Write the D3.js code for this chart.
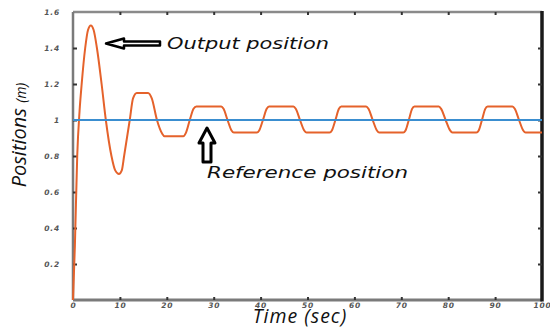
<!DOCTYPE html>
<html>
<head>
<meta charset="utf-8">
<script src="https://cdn.jsdelivr.net/npm/d3@7"></script>
<style>
  body { margin: 0; background: #fff; }
  svg { display: block; }
</style>
</head>
<body>
<div id="display"></div>
<script>
// values
const outputTime = [0, 0.4, 0.9, 1.4, 1.85, 2.6, 3.2, 3.8, 4.4, 5.1, 6.1, 7.0, 8.2, 9.0, 9.8, 10.4, 10.9, 12.1, 12.8, 13.6,
    16.0, 16.8, 17.9, 19.0, 19.5, 23.5, 24.1, 24.9, 25.7, 26.3,
    31.6, 32.1, 32.95, 33.8, 34.3, 39.2, 39.7, 40.5, 41.3, 41.8,
    47.0, 47.5, 48.4, 49.3, 49.8, 54.7, 55.2, 55.95, 56.7, 57.2,
    62.5, 63.0, 63.9, 64.8, 65.3, 70.4, 70.9, 71.6, 72.3, 72.8,
    78.0, 78.5, 79.45, 80.4, 80.9, 86.0, 86.5, 87.2, 87.9, 88.4,
    93.7, 94.2, 95.1, 96.0, 96.5, 100];
const outputPos = [0, 0.3, 0.8, 1.05, 1.2, 1.4, 1.5, 1.525, 1.5, 1.4, 1.2, 1.0, 0.8, 0.72, 0.70, 0.72, 0.8, 1.0, 1.12, 1.15,
    1.15, 1.12, 1.0, 0.925, 0.91, 0.91, 0.93, 1.0, 1.062, 1.075,
    1.075, 1.062, 1.0, 0.942, 0.93, 0.93, 0.942, 1.0, 1.062, 1.075,
    1.075, 1.062, 1.0, 0.942, 0.93, 0.93, 0.942, 1.0, 1.062, 1.075,
    1.075, 1.062, 1.0, 0.942, 0.93, 0.93, 0.942, 1.0, 1.062, 1.075,
    1.075, 1.062, 1.0, 0.942, 0.93, 0.93, 0.942, 1.0, 1.062, 1.075,
    1.075, 1.062, 1.0, 0.942, 0.93, 0.93];
const refTime = [0, 100];
const refPos = [1, 1];
const xTicks = [0, 10, 20, 30, 40, 50, 60, 70, 80, 90, 100];
const yTicks = [0.2, 0.4, 0.6, 0.8, 1, 1.2, 1.4, 1.6];

const w = 550;
const h = 328;
const margin = {top: 12, right: 8, bottom: 28, left: 73};

const viz = d3.select('#display').append('svg')
    .attr('width', w)
    .attr('height', h);

const xScale = d3.scaleLinear().domain([0, 100]).range([margin.left, w - margin.right]);
const yScale = d3.scaleLinear().domain([0, 1.6]).range([h - margin.bottom, margin.top]);

const x0 = xScale.range()[0], x1 = xScale.range()[1];
const y0 = yScale.range()[0], y1 = yScale.range()[1];

// frame: grey left/top/bottom, black right
const frame = viz.append('g').attr('class', 'frame');
frame.append('line').attr('x1', x0).attr('x2', x1).attr('y1', y1).attr('y2', y1)
    .attr('stroke', '#8a8a8a').attr('stroke-width', 2.5);
frame.append('line').attr('x1', x0).attr('x2', x0).attr('y1', y1).attr('y2', y0)
    .attr('stroke', '#7a7a7a').attr('stroke-width', 2.5);
frame.append('line').attr('x1', x0).attr('x2', x1).attr('y1', y0).attr('y2', y0)
    .attr('stroke', '#7a7a7a').attr('stroke-width', 3);
frame.append('line').attr('x1', x1).attr('x2', x1).attr('y1', y1 - 1).attr('y2', y0 + 1.5)
    .attr('stroke', '#1a1a1a').attr('stroke-width', 3.5);

const tickStyle = (g) => {
    g.select('.domain').remove();
    g.selectAll('.tick line').attr('stroke', '#333').attr('stroke-width', 2);
    g.selectAll('.tick text')
        .attr('fill', '#555')
        .style('font-family', "'DejaVu Sans', sans-serif")
        .style('font-style', 'italic')
        .style('font-weight', 'bold')
        .style('font-size', '7.5px')
        .style('letter-spacing', '0.8px');
};

// bottom axis with labels
const xAxisGroup = viz.append('g')
    .attr('transform', `translate(0,${y0})`)
    .call(d3.axisBottom(xScale).tickValues(xTicks).tickSize(-3).tickPadding(3).tickFormat(d3.format('d')))
    .call(tickStyle);
xAxisGroup.selectAll('.tick').filter((d) => d === 0 || d === 100).select('line').remove();

// left axis with labels
const yAxisGroup = viz.append('g')
    .attr('transform', `translate(${x0},0)`)
    .call(d3.axisLeft(yScale).tickValues(yTicks).tickSize(-4).tickPadding(13).tickFormat((d) => String(d)))
    .call(tickStyle);
yAxisGroup.selectAll('.tick').filter((d) => d === 1.6).select('line').remove();

// top and right ticks only
viz.append('g')
    .attr('transform', `translate(0,${y1})`)
    .call(d3.axisTop(xScale).tickValues(xTicks.filter((d) => d > 0 && d < 100)).tickSize(-3).tickFormat(''))
    .call(tickStyle);
viz.append('g')
    .attr('transform', `translate(${x1},0)`)
    .call(d3.axisRight(yScale).tickValues(yTicks.filter((d) => d < 1.6)).tickSize(-4).tickFormat(''))
    .call(tickStyle);

// lines
const lineMaker = d3.line()
    .x((d) => xScale(d[0]))
    .y((d) => yScale(d[1]))
    .curve(d3.curveMonotoneX);

const outputData = outputTime.map((t, i) => [t, outputPos[i]]);
const refData = refTime.map((t, i) => [t, refPos[i]]);

viz.append('path')
    .datum(outputData)
    .attr('class', 'line output')
    .attr('d', lineMaker)
    .attr('fill', 'none')
    .attr('stroke', '#e5622b')
    .attr('stroke-width', 2);

viz.append('path')
    .datum(refData)
    .attr('class', 'line reference')
    .attr('d', lineMaker)
    .attr('fill', 'none')
    .attr('stroke', '#3a8ed0')
    .attr('stroke-width', 2.2);

// axis titles
viz.append('text')
    .attr('x', 300)
    .attr('y', 323)
    .attr('text-anchor', 'middle')
    .style('font-family', "'Open Sans', sans-serif")
    .style('font-style', 'italic')
    .style('font-size', '19.5px')
    .style('letter-spacing', '1px')
    .attr('fill', '#111')
    .text('Time (sec)');

const yTitle = viz.append('text')
    .attr('transform', 'translate(26,135) rotate(-90)')
    .attr('text-anchor', 'middle')
    .style('font-family', "'Open Sans', sans-serif")
    .style('font-style', 'italic')
    .attr('fill', '#111');
yTitle.append('tspan').style('font-size', '20px').text('Positions ');
yTitle.append('tspan').style('font-size', '14px').text('(m)');

// annotations
const note = (x, y, text, len) => viz.append('text')
    .attr('x', x)
    .attr('y', y)
    .attr('textLength', len)
    .attr('lengthAdjust', 'spacingAndGlyphs')
    .style('font-family', "'DejaVu Sans', sans-serif")
    .style('font-style', 'italic')
    .style('font-size', '16px')
    .attr('fill', '#111')
    .text(text);

note(167, 49, 'Output position', 162);
note(207, 178, 'Reference position', 201);

// hollow block arrows
const leftArrow = d3.path();
leftArrow.moveTo(106, 43.5);
leftArrow.lineTo(124, 38.5);
leftArrow.lineTo(124, 41.5);
leftArrow.lineTo(160, 41.5);
leftArrow.lineTo(160, 45.5);
leftArrow.lineTo(124, 45.5);
leftArrow.lineTo(124, 48.5);
leftArrow.closePath();
viz.append('path').attr('d', leftArrow.toString())
    .attr('fill', '#fff').attr('stroke', '#000').attr('stroke-width', 2.5).attr('stroke-linejoin', 'round');

const upArrow = d3.path();
upArrow.moveTo(207, 128);
upArrow.lineTo(215, 143);
upArrow.lineTo(211, 143);
upArrow.lineTo(211, 162);
upArrow.lineTo(203, 162);
upArrow.lineTo(203, 143);
upArrow.lineTo(199, 143);
upArrow.closePath();
viz.append('path').attr('d', upArrow.toString())
    .attr('fill', '#fff').attr('stroke', '#000').attr('stroke-width', 3).attr('stroke-linejoin', 'round');
</script>
</body>
</html>
